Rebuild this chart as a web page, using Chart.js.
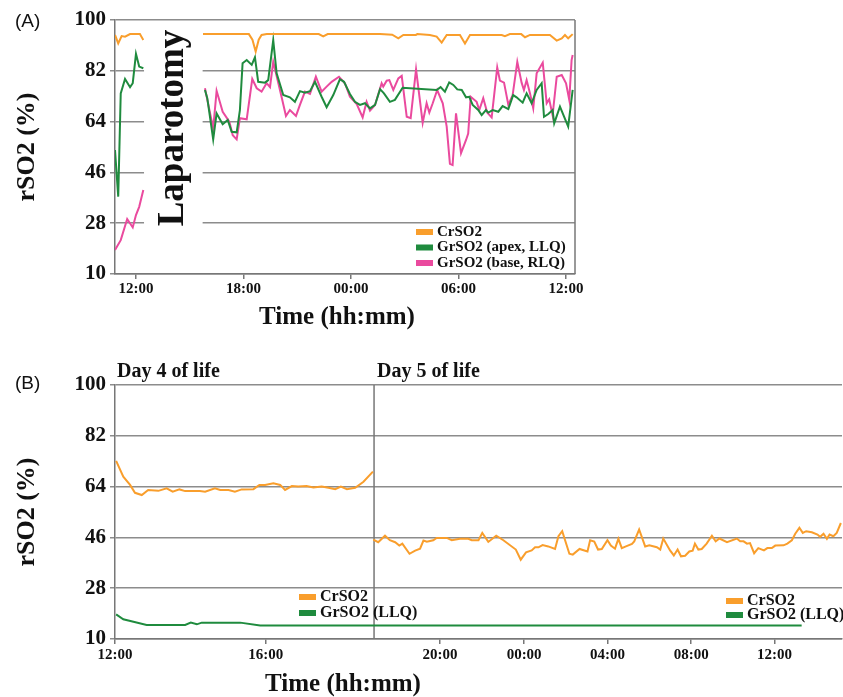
<!DOCTYPE html>
<html>
<head>
<meta charset="utf-8">
<script src="https://cdn.jsdelivr.net/npm/chart.js@4.4.1/dist/chart.umd.min.js"></script>
<style>
  body { margin: 0; background: #fff; }
  #wrap { position: relative; width: 843px; height: 697px; }
  canvas { position: absolute; left: 0; }
  #chartA { top: 0; }
  #chartB { top: 345px; }
  .tag { position: absolute; left: 15px; font: 19px 'Liberation Sans', Arial, sans-serif; color: #111; }
</style>
</head>
<body>
<div id="wrap">
  <canvas id="chartA" width="843" height="345"></canvas>
  <canvas id="chartB" width="843" height="352"></canvas>
  <div class="tag" style="top:10px">(A)</div>
  <div class="tag" style="top:372px">(B)</div>
</div>
<script>
const SERIF = "'Liberation Serif', 'Times New Roman', serif";
const ORANGE = '#F99E2C';
const GREEN = '#1F8B3E';
const PINK = '#EA4A9E';

// ---- panel A : time in hours (24 = midnight, 36 = noon next day)
const aTickHours = [12, 18, 24, 30, 36];
const aTickLabels = ['12:00', '18:00', '00:00', '06:00', '12:00'];
const surgeryGap = [12.45, 15.72];

const crA = [
  [10.83, 94.7], [11.01, 91.7], [11.20, 94.3], [11.39, 94.1], [11.67, 95.0], [12.22, 95.0], [12.41, 92.9],
  [14, null],
  [15.74, 95], [18.30, 95], [18.50, 93], [18.68, 88.8], [18.85, 93], [19.01, 94.7], [19.3, 95], [22.2, 95],
  [22.45, 94.2], [22.7, 95], [25.62, 95], [26.3, 94.8], [26.64, 93.5], [26.92, 94.7], [27.62, 94.7], [27.7, 95],
  [28.4, 94.7], [28.78, 94.1], [29.06, 92.0], [29.34, 94.7], [30.08, 94.7], [30.36, 91.7], [30.64, 94.7],
  [32.41, 94.7], [32.59, 94.3], [32.87, 95], [33.5, 95], [33.71, 93.9], [33.99, 94.7], [35.10, 94.7],
  [35.48, 92.7], [35.76, 93.5], [35.94, 94.7], [36.12, 93.5], [36.37, 95]
];
const apexA = [
  [10.83, 53.9], [11.01, 37.4], [11.15, 74.0], [11.39, 79.1], [11.67, 76.2], [11.82, 77.6], [12.0, 88.0], [12.18, 83.5], [12.41, 82.9],
  [14, null],
  [15.85, 75.2], [15.98, 72.3], [16.31, 57.7], [16.50, 66.9], [16.84, 63.1], [17.12, 64.6], [17.34, 60.4], [17.62, 60.2],
  [17.80, 68.1], [17.95, 84.7], [18.18, 85.8], [18.46, 84.1], [18.64, 86.8], [18.82, 78.1], [19.20, 77.8], [19.38, 78.7],
  [19.66, 92.9], [19.85, 81.1], [20.22, 73.4], [20.59, 72.6], [20.87, 71.0], [21.15, 74.8], [21.43, 74.2], [21.71, 74.8],
  [21.99, 78.1], [22.36, 72.8], [22.64, 69.1], [23.01, 73.4], [23.38, 79.0], [23.61, 78.1], [23.94, 73.8], [24.22, 71.0],
  [24.50, 69.9], [24.78, 70.5], [25.06, 68.7], [25.34, 69.9], [25.62, 75.5], [25.84, 74.0], [26.17, 71.0], [26.45, 71.7],
  [26.88, 76.0], [28.78, 75.2], [29.00, 76.2], [29.24, 74.6], [29.48, 77.9], [29.71, 77.0], [29.93, 75.4], [30.18, 75.2],
  [30.42, 72.6], [30.60, 72.8], [30.79, 69.9], [31.10, 68.1], [31.29, 66.3], [31.53, 68.1], [31.66, 67.2], [31.91, 68.1],
  [32.22, 67.5], [32.46, 69.5], [32.78, 68.4], [33.05, 73.4], [33.24, 72.6], [33.58, 70.7], [33.80, 74.0], [34.08, 70.5],
  [34.36, 75.2], [34.64, 77.6], [34.77, 65.7], [35.01, 66.7], [35.25, 68.1], [35.34, 63.4], [35.66, 69.3], [36.12, 62.2],
  [36.37, 75.2]
];
const baseA = [
  [10.83, 18.5], [11.15, 22.0], [11.51, 29.5], [11.82, 26.5], [12.0, 30.9], [12.18, 33.8], [12.41, 39.8],
  [14, null],
  [15.85, 75.8], [16.31, 61.6], [16.50, 74.9], [16.84, 67.5], [17.21, 64.0], [17.40, 59.2], [17.62, 57.7], [17.80, 65.2],
  [18.18, 64.8], [18.49, 79.1], [18.74, 75.8], [19.01, 74.6], [19.29, 77.6], [19.48, 76.2], [19.66, 85.2], [19.94, 77.8],
  [20.13, 72.6], [20.37, 66.0], [20.59, 68.1], [20.93, 66.0], [21.15, 69.9], [21.43, 74.6], [21.71, 73.8], [22.04, 79.9],
  [22.36, 74.6], [22.64, 76.4], [22.92, 78.1], [23.33, 79.9], [23.66, 77.6], [23.94, 72.8], [24.32, 70.2], [24.65, 65.5],
  [24.87, 71.0], [25.06, 67.9], [25.34, 69.9], [25.71, 77.6], [25.80, 76.4], [25.99, 78.5], [26.14, 78.7], [26.36, 75.2],
  [26.64, 79.3], [26.83, 80.2], [27.11, 65.7], [27.33, 65.2], [27.63, 82.5], [28.00, 63.6], [28.22, 70.5], [28.37, 67.2],
  [28.56, 70.5], [28.81, 75.2], [29.12, 70.5], [29.34, 62.2], [29.52, 49.0], [29.67, 48.6], [29.86, 66.9], [30.14, 52.8],
  [30.42, 57.5], [30.54, 59.8], [30.68, 72.8], [31.01, 71.0], [31.16, 68.1], [31.38, 72.3], [31.60, 67.2], [31.85, 65.5],
  [32.16, 83.2], [32.31, 78.5], [32.54, 77.8], [32.78, 69.9], [33.02, 73.4], [33.28, 85.2], [33.52, 77.8], [33.65, 75.2],
  [33.80, 78.7], [33.99, 74.0], [34.17, 68.7], [34.36, 81.1], [34.70, 84.9], [34.92, 70.5], [35.06, 71.9], [35.25, 66.3],
  [35.48, 79.9], [35.76, 80.5], [36.00, 77.6], [36.18, 71.7], [36.31, 85.8], [36.37, 87.6]
];

// ---- panel B : position on the (two-speed) time axis
const bTickPos = [12, 16, 20.62, 22.85, 25.06, 27.28, 29.49];
const bTickLabels = ['12:00', '16:00', '20:00', '00:00', '04:00', '08:00', '12:00'];
const dayBreak = 18.87;

const crB = [
  [12.03, 73.1], [12.22, 67.5], [12.40, 64.6], [12.53, 61.8], [12.71, 61.0], [12.88, 62.8], [13.15, 62.5], [13.37, 63.4],
  [13.53, 62.2], [13.71, 63.0], [13.86, 62.4], [14.25, 62.4], [14.39, 62.2], [14.65, 63.4], [14.79, 62.8], [15.01, 62.8],
  [15.18, 62.2], [15.36, 63.0], [15.67, 63.1], [15.83, 64.6], [15.98, 64.6], [16.20, 65.2], [16.38, 64.6], [16.51, 62.8],
  [16.69, 64.2], [16.86, 64.0], [17.08, 64.2], [17.26, 63.7], [17.48, 64.0], [17.66, 63.6], [17.84, 63.1], [17.99, 64.0],
  [18.15, 63.1], [18.37, 63.6], [18.59, 65.7], [18.84, 69.3],
  [18.845, null],
  [18.85, 45.2], [18.98, 44.3], [19.16, 46.6], [19.29, 45.0], [19.43, 44.3], [19.54, 43.1], [19.62, 43.8], [19.81, 40.2],
  [19.96, 41.3], [20.09, 42.0], [20.18, 44.9], [20.27, 44.5], [20.44, 45.0], [20.53, 45.8], [20.80, 45.8], [20.93, 45.0],
  [21.15, 45.5], [21.37, 45.5], [21.46, 45.0], [21.64, 45.0], [21.74, 47.6], [21.90, 44.4], [22.11, 46.6], [22.30, 45.0],
  [22.63, 41.7], [22.76, 38.1], [22.90, 40.7], [23.05, 41.4], [23.14, 42.5], [23.23, 42.5], [23.34, 43.3], [23.49, 42.8],
  [23.67, 41.9], [23.76, 46.4], [23.86, 48.2], [24.05, 40.2], [24.14, 39.9], [24.32, 41.9], [24.53, 41.0], [24.60, 45.0],
  [24.71, 44.5], [24.81, 41.7], [24.91, 41.9], [25.06, 45.0], [25.15, 43.1], [25.26, 42.0], [25.35, 45.5], [25.44, 42.2],
  [25.55, 42.8], [25.71, 43.7], [25.77, 44.6], [25.90, 48.8], [26.06, 42.8], [26.17, 43.2], [26.37, 42.5], [26.46, 41.7],
  [26.54, 45.6], [26.72, 41.4], [26.82, 39.6], [26.92, 41.7], [27.01, 39.3], [27.12, 39.5], [27.23, 41.0], [27.32, 41.3],
  [27.38, 43.8], [27.47, 41.7], [27.56, 41.9], [27.69, 43.8], [27.83, 46.6], [27.93, 44.6], [28.03, 45.6], [28.23, 44.3],
  [28.49, 45.6], [28.58, 44.6], [28.67, 44.6], [28.76, 43.8], [28.84, 44.0], [28.95, 40.4], [29.06, 42.2], [29.21, 41.4],
  [29.30, 42.2], [29.42, 42.2], [29.51, 43.1], [29.73, 43.2], [29.83, 43.8], [29.95, 45.0], [30.04, 47.3], [30.15, 49.4],
  [30.24, 47.6], [30.33, 48.2], [30.48, 47.8], [30.63, 47.0], [30.70, 46.2], [30.79, 47.3], [30.88, 45.5], [30.95, 47.0],
  [31.05, 46.4], [31.14, 47.6], [31.25, 51.1]
];
const llqB = [
  [12.03, 18.7], [12.22, 17.0], [12.84, 15.0], [13.86, 15.0], [14.01, 15.8], [14.17, 15.2], [14.30, 15.8],
  [15.32, 15.8], [15.85, 14.8], [30.21, 14.8]
];

const toXY = arr => arr.map(([x, y]) => ({ x, y }));

function line(label, arr, color) {
  return { label, data: toXY(arr), borderColor: color, backgroundColor: color, borderWidth: 2,
           pointRadius: 0, tension: 0, spanGaps: false };
}

// extra drawing: white band, frame/divider lines, free texts, legends
const annot = {
  id: 'annot',
  beforeDatasetsDraw(chart, args, opts) {
    const { ctx, chartArea: a, scales: { x } } = chart;
    ctx.save();
    if (opts.gap) {
      const x0 = x.getPixelForValue(opts.gap[0]), x1 = x.getPixelForValue(opts.gap[1]);
      ctx.fillStyle = '#fff';
      ctx.fillRect(x0, a.top + 1, x1 - x0, a.bottom - a.top - 2);
    }
    ctx.strokeStyle = '#777';
    ctx.lineWidth = 1.5;
    (opts.vlines || []).forEach(v => {
      const px = x.getPixelForValue(v);
      ctx.beginPath(); ctx.moveTo(px, a.top); ctx.lineTo(px, a.bottom); ctx.stroke();
    });
    ctx.restore();
  },
  afterDraw(chart, args, opts) {
    const { ctx } = chart;
    (opts.texts || []).forEach(t => {
      ctx.save();
      ctx.fillStyle = '#111';
      ctx.font = t.font;
      ctx.textAlign = t.align || 'left';
      ctx.textBaseline = t.baseline || 'middle';
      ctx.translate(t.x, t.y);
      if (t.rot) ctx.rotate(t.rot);
      ctx.fillText(t.text, 0, 0);
      ctx.restore();
    });
    (opts.legends || []).forEach(lg => {
      lg.items.forEach((idx, i) => {
        const ds = chart.data.datasets[idx];
        const y = lg.y + i * lg.step;
        ctx.save();
        ctx.fillStyle = ds.borderColor;
        ctx.fillRect(lg.x, y - 3, 17, 6);
        ctx.fillStyle = '#111';
        ctx.font = lg.font;
        ctx.textAlign = 'left';
        ctx.textBaseline = 'middle';
        ctx.fillText(ds.label, lg.x + 21, y);
        ctx.restore();
      });
    });
  }
};

function yScale() {
  return {
    min: 10, max: 100,
    ticks: { stepSize: 18, color: '#111', padding: 4, font: { family: SERIF, weight: 'bold', size: 21 } },
    grid: { color: '#8c8c8c', lineWidth: 1.5, tickLength: 5 },
    border: { color: '#777', width: 1.5 },
    title: { display: true, text: 'rSO2 (%)', color: '#111', padding: { top: 12, bottom: 0 },
             font: { family: SERIF, weight: 'bold', size: 26 } },
    afterFit: s => { s.width = 115; }
  };
}

function xScale(min, max, pos, labels, height, pad) {
  return {
    type: 'linear', min, max,
    afterBuildTicks: s => { s.ticks = pos.map(v => ({ value: v })); },
    ticks: { callback: (v, i) => labels[i], color: '#111', padding: pad, maxRotation: 0, autoSkip: false,
             font: { family: SERIF, weight: 'bold', size: 15 } },
    grid: { drawOnChartArea: false, tickLength: 5, color: '#777', lineWidth: 1.5 },
    border: { color: '#777', width: 1.5 },
    afterFit: s => { s.height = height; }
  };
}

new Chart(document.getElementById('chartA'), {
  type: 'line',
  data: { datasets: [
    line('CrSO2', crA, ORANGE),
    line('GrSO2 (apex, LLQ)', apexA, GREEN),
    line('GrSO2 (base, RLQ)', baseA, PINK)
  ] },
  options: {
    responsive: false, animation: false,
    layout: { padding: { left: 0, top: 20, right: 268, bottom: 0 } },
    scales: { x: xScale(10.83, 36.5, aTickHours, aTickLabels, 71, 1), y: yScale() },
    plugins: {
      legend: { display: false }, tooltip: { enabled: false },
      annot: {
        gap: surgeryGap,
        vlines: [36.5],
        texts: [
          { text: 'Laparotomy', x: 183, y: 128, rot: -Math.PI / 2, align: 'center', baseline: 'alphabetic',
            font: `bold 37px ${SERIF}` },
          { text: 'Time (hh:mm)', x: 337, y: 318, align: 'center', font: `bold 25px ${SERIF}` }
        ],
        legends: [{ x: 416, y: 232, step: 15.5, items: [0, 1, 2], font: `bold 15px ${SERIF}` }]
      }
    }
  },
  plugins: [annot]
});

new Chart(document.getElementById('chartB'), {
  type: 'line',
  data: { datasets: [
    line('CrSO2', crB, ORANGE),
    line('GrSO2 (LLQ)', llqB, GREEN)
  ] },
  options: {
    responsive: false, animation: false,
    layout: { padding: { left: 0, top: 40, right: 1, bottom: 0 } },
    scales: { x: xScale(12, 31.28, bTickPos, bTickLabels, 58, 2), y: yScale() },
    plugins: {
      legend: { display: false }, tooltip: { enabled: false },
      annot: {
        vlines: [dayBreak],
        texts: [
          { text: 'Day 4 of life', x: 117, y: 32, baseline: 'alphabetic', font: `bold 20px ${SERIF}` },
          { text: 'Day 5 of life', x: 377, y: 32, baseline: 'alphabetic', font: `bold 20px ${SERIF}` },
          { text: 'Time (hh:mm)', x: 343, y: 340, align: 'center', font: `bold 25px ${SERIF}` }
        ],
        legends: [
          { x: 299, y: 252, step: 16, items: [0, 1], font: `bold 16px ${SERIF}` },
          { x: 726, y: 256, step: 14, items: [0, 1], font: `bold 16px ${SERIF}` }
        ]
      }
    }
  },
  plugins: [annot]
});
</script>
</body>
</html>
